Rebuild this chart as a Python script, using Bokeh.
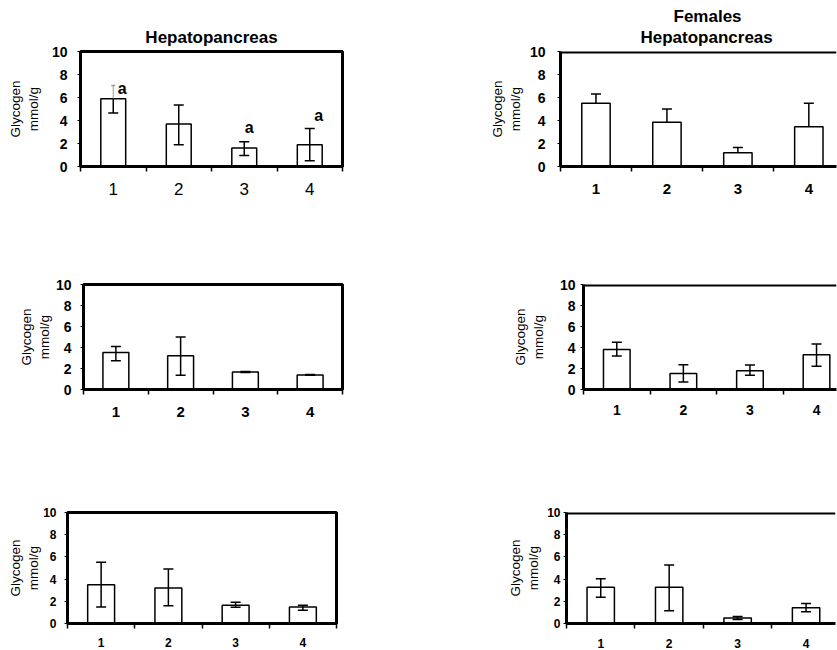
from bokeh.plotting import figure
from bokeh.layouts import column, row
from bokeh.models import Range1d, FixedTicker, ColumnDataSource, Span, Title
from bokeh.embed import file_html
from bokeh.resources import INLINE

FONT = "Liberation Sans"

categories = ["1", "2", "3", "4"]

# Top-left: Hepatopancreas
tl_mean = [5.9, 3.7, 1.6, 1.9]
tl_lower = [4.65, 1.9, 0.95, 0.5]
tl_upper = [7.05, 5.35, 2.15, 3.3]
tl_letter_cat = ["1", "3", "4"]
tl_letter_text = ["a", "a", "a"]
tl_letter_y = [6.75, 3.4, 4.45]

# Top-right: Females Hepatopancreas (upper error bars only)
tr_mean = [5.5, 3.85, 1.2, 3.45]
tr_upper = [6.3, 5.0, 1.65, 5.5]

# Middle-left
ml_mean = [3.52, 3.22, 1.67, 1.39]
ml_lower = [2.74, 1.35, 1.63, 1.35]
ml_upper = [4.1, 5.0, 1.71, 1.43]

# Middle-right
mr_mean = [3.82, 1.53, 1.78, 3.31]
mr_lower = [3.18, 0.71, 1.36, 2.21]
mr_upper = [4.5, 2.35, 2.33, 4.33]

# Bottom-left
bl_mean = [3.49, 3.19, 1.64, 1.49]
bl_lower = [1.49, 1.61, 1.46, 1.19]
bl_upper = [5.52, 4.92, 1.91, 1.64]

# Bottom-right
br_mean = [3.27, 3.27, 0.5, 1.41]
br_lower = [2.36, 1.14, 0.36, 1.05]
br_upper = [4.04, 5.27, 0.64, 1.8]

y_ticks = [0, 2, 4, 6, 8, 10]
y_label = "Glycogen\nmmol/g"


def make_panel(mean, lower, upper, width, height, borders, x_end, titles=(),
               faint_upper=(), open_right=False,
               xfont="14px", xstyle="bold", yfont="14px", x_standoff=10,
               y_standoff=10, label_standoff=8, bar_width=0.4,
               letters=None):
    left, right, top, bottom = borders
    p = figure(width=width, height=height, title=None,
               x_range=Range1d(0.5, x_end), y_range=Range1d(0, 10),
               output_backend="svg", toolbar_location=None,
               min_border_left=left, min_border_right=right,
               min_border_top=top, min_border_bottom=bottom,
               background_fill_color="white", border_fill_color="white")
    xs = [i + 1 for i in range(len(categories))]

    p.vbar(x=xs, top=mean, bottom=0, width=bar_width, fill_color="white",
           line_color="black", line_width=1.5)

    # error bars
    up_col = ["#9a9a9a" if i in faint_upper else "black" for i in range(len(xs))]
    up_w = [1 if i in faint_upper else 1.5 for i in range(len(xs))]
    cap_size = [4 if i in faint_upper else 10 for i in range(len(xs))]
    up_src = ColumnDataSource(dict(x=xs, y0=mean, y1=upper, c=up_col, w=up_w,
                                   s=cap_size))
    p.segment(x0="x", y0="y0", x1="x", y1="y1", line_color="c",
              line_width="w", source=up_src)
    p.scatter(x="x", y="y1", marker="dash", size="s", line_color="c",
              line_width=1.5, source=up_src)
    if lower is not None:
        lo_src = ColumnDataSource(dict(x=xs, y0=lower, y1=mean))
        p.segment(x0="x", y0="y0", x1="x", y1="y1", line_color="black",
                  line_width=1.5, source=lo_src)
        p.scatter(x="x", y="y0", marker="dash", size=10, line_color="black",
                  line_width=1.5, source=lo_src)

    if letters is not None:
        cats, texts, ys, xoffs = letters
        lx = [categories.index(c) + 1 for c in cats]
        p.text(x=lx, y=ys, text=texts, x_offset=xoffs, text_align="center",
               text_baseline="middle", text_font_size="16px",
               text_font_style="bold", text_color="black",
               text_font={"value": FONT})

    p.xgrid.visible = False
    p.ygrid.visible = False

    # x axis
    xa = p.xaxis[0]
    xa.ticker = FixedTicker(ticks=xs, minor_ticks=[0.5, 1.5, 2.5, 3.5, 4.5])
    xa.major_label_overrides = {x: c for x, c in zip(xs, categories)}
    xa.major_tick_line_color = None
    xa.major_tick_out = 0
    xa.major_tick_in = 0
    xa.minor_tick_out = 5
    xa.minor_tick_in = 0
    xa.minor_tick_line_color = "black"
    xa.minor_tick_line_width = 1.5
    xa.axis_line_width = 3
    xa.axis_line_color = "black"
    xa.major_label_text_font = FONT
    xa.major_label_text_font_size = xfont
    xa.major_label_text_font_style = xstyle
    xa.major_label_text_color = "black"
    xa.major_label_standoff = x_standoff

    # y axis
    ya = p.yaxis[0]
    ya.ticker = FixedTicker(ticks=y_ticks)
    ya.minor_tick_line_color = None
    ya.major_tick_out = 3
    ya.major_tick_in = 0
    ya.major_tick_line_color = "black"
    ya.major_tick_line_width = 1
    ya.axis_line_width = 3
    ya.axis_line_color = "black"
    ya.major_label_text_font = FONT
    ya.major_label_text_font_size = yfont
    ya.major_label_text_font_style = "bold"
    ya.major_label_text_color = "black"
    ya.major_label_standoff = y_standoff
    ya.axis_label = y_label
    ya.axis_label_text_font = FONT
    ya.axis_label_text_font_size = "13.5px"
    ya.axis_label_text_font_style = "normal"
    ya.axis_label_text_color = "black"
    ya.axis_label_standoff = label_standoff

    if open_right:
        p.outline_line_color = None
        p.add_layout(Span(location=10, dimension="width", line_color="black",
                          line_width=4))
    else:
        p.outline_line_color = "black"
        p.outline_line_width = 3
        p.outline_line_alpha = 1.0

    # titles: first one is nearest the frame
    for t, align, off, so in titles:
        p.add_layout(Title(text=t, align=align, text_font=FONT,
                           text_font_size="17px", text_font_style="bold",
                           text_color="black", standoff=so, offset=off),
                     "above")
    return p


p1 = make_panel(tl_mean, tl_lower, tl_upper, 480, 230, (80, 138, 51, 64), 4.5,
                titles=[("Hepatopancreas", "center", 0, 10)], faint_upper=(0,),
                xfont="17px", xstyle="normal", x_standoff=11, bar_width=0.38,
                letters=(tl_letter_cat, tl_letter_text, tl_letter_y, [9, 5, 9]))
p2 = make_panel(tr_mean, None, tr_upper, 357, 230, (80, 1, 50, 64), 4.39,
                titles=[("Hepatopancreas", "left", 80, 9),
                        ("Females", "left", 113, -8)],
                open_right=True, xfont="15px", x_standoff=12, y_standoff=12,
                label_standoff=4)
p3 = make_panel(ml_mean, ml_lower, ml_upper, 480, 210, (83, 138, 54, 51), 4.5,
                xfont="15px", x_standoff=12, y_standoff=9, label_standoff=1)
p4 = make_panel(mr_mean, mr_lower, mr_upper, 357, 210, (103, 1, 44, 49), 4.30,
                open_right=True, xfont="14px", x_standoff=10, y_standoff=5,
                label_standoff=11)
p5 = make_panel(bl_mean, bl_lower, bl_upper, 480, 210, (67, 144, 72, 27), 4.5,
                xfont="12px", yfont="12px", x_standoff=9, y_standoff=8,
                label_standoff=-1)
p6 = make_panel(br_mean, br_lower, br_upper, 357, 210, (86, 2, 67, 23), 4.43,
                open_right=True, xfont="12px", yfont="12px", x_standoff=10,
                y_standoff=3, label_standoff=3)

layout = column(row(p1, p2), row(p3, p4), row(p5, p6))

with open("out.html", "w") as f:
    f.write(file_html(layout, INLINE))
